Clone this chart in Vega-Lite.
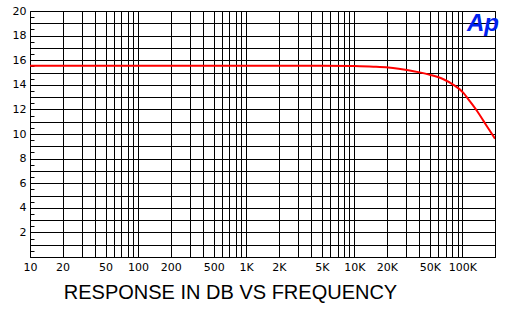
{
  "$schema": "https://vega.github.io/schema/vega-lite/v6.json",
  "autosize": "none",
  "width": 465,
  "height": 246,
  "padding": {"left": 30, "top": 11, "right": 11, "bottom": 54},
  "background": "white",
  "config": {
    "view": {"stroke": "black", "strokeWidth": 1},
    "axis": {"labelFont": "DejaVu Sans", "labelFontSize": 11, "labelColor": "black", "domain": false}
  },
  "datasets": {
    "response": [
      {"freq": 10, "db": 15.55},
      {"freq": 100, "db": 15.55},
      {"freq": 1000, "db": 15.55},
      {"freq": 5000, "db": 15.55},
      {"freq": 10000, "db": 15.52},
      {"freq": 15000, "db": 15.47},
      {"freq": 20600, "db": 15.4},
      {"freq": 25700, "db": 15.3},
      {"freq": 31600, "db": 15.18},
      {"freq": 39000, "db": 15.03},
      {"freq": 50600, "db": 14.8},
      {"freq": 66700, "db": 14.45},
      {"freq": 82500, "db": 14.0},
      {"freq": 102000, "db": 13.35},
      {"freq": 114000, "db": 12.8},
      {"freq": 137000, "db": 11.85},
      {"freq": 157000, "db": 11.05},
      {"freq": 178000, "db": 10.3},
      {"freq": 200000, "db": 9.62}
    ],
    "logo": [
      {"freq": 155000, "db": 18.95, "text": "Ap"}
    ]
  },
  "encoding": {
    "x": {
      "field": "freq", "type": "quantitative",
      "scale": {"type": "log", "domain": [10, 200000], "nice": false},
      "axis": {
        "title": "RESPONSE IN DB VS FREQUENCY",
        "titleFont": "Liberation Sans", "titleFontSize": 20, "titleFontWeight": "normal", "titleColor": "black",
        "titleX": 200, "titleY": 41, "titleBaseline": "alphabetic", "titleAnchor": "middle", "titleAlign": "center",
        "values": [10,20,30,40,50,60,70,80,90,100,200,300,400,500,600,700,800,900,1000,2000,3000,4000,5000,6000,7000,8000,9000,10000,20000,30000,40000,50000,60000,70000,80000,90000,100000,200000],
        "labelExpr": "indexof([10,20,50,100,200,500,1000,2000,5000,10000,20000,50000,100000], datum.value) >= 0 ? (datum.value >= 1000 ? (datum.value/1000) + 'K' : '' + datum.value) : ''",
        "grid": true, "gridColor": "black", "gridOpacity": 1, "gridWidth": 1,
        "ticks": false, "labelPadding": 4, "labelOverlap": false, "labelFlush": false, "labelBound": false
      }
    },
    "y": {
      "field": "db", "type": "quantitative",
      "scale": {"domain": [0, 20], "nice": false, "zero": false},
      "axis": {
        "title": null,
        "values": [0,0.5,1,1.5,2,2.5,3,3.5,4,4.5,5,5.5,6,6.5,7,7.5,8,8.5,9,9.5,10,10.5,11,11.5,12,12.5,13,13.5,14,14.5,15,15.5,16,16.5,17,17.5,18,18.5,19,19.5,20],
        "labelExpr": "datum.value > 0 && datum.value % 2 == 0 ? '' + datum.value : ''",
        "grid": true, "gridColor": "black", "gridWidth": 1,
        "gridOpacity": {"condition": {"test": "datum.value % 1 != 0", "value": 0}, "value": 1},
        "ticks": true, "tickSize": -4, "tickWidth": 1,
        "tickColor": {"condition": {"test": "datum.value % 1 != 0", "value": "black"}, "value": "transparent"},
        "labelPadding": 8, "labelOverlap": false, "labelFlush": false, "labelBound": false
      }
    }
  },
  "layer": [
    {
      "data": {"name": "response"},
      "mark": {"type": "line", "color": "#ff0000", "strokeWidth": 2, "clip": true, "interpolate": "monotone"}
    },
    {
      "data": {"name": "logo"},
      "mark": {"type": "text", "font": "Liberation Sans", "fontSize": 24, "fontWeight": "bold", "fontStyle": "italic", "color": "#0022ee", "align": "center", "baseline": "middle", "letterSpacing": -2},
      "encoding": {
        "text": {"field": "text"}
      }
    }
  ]
}
